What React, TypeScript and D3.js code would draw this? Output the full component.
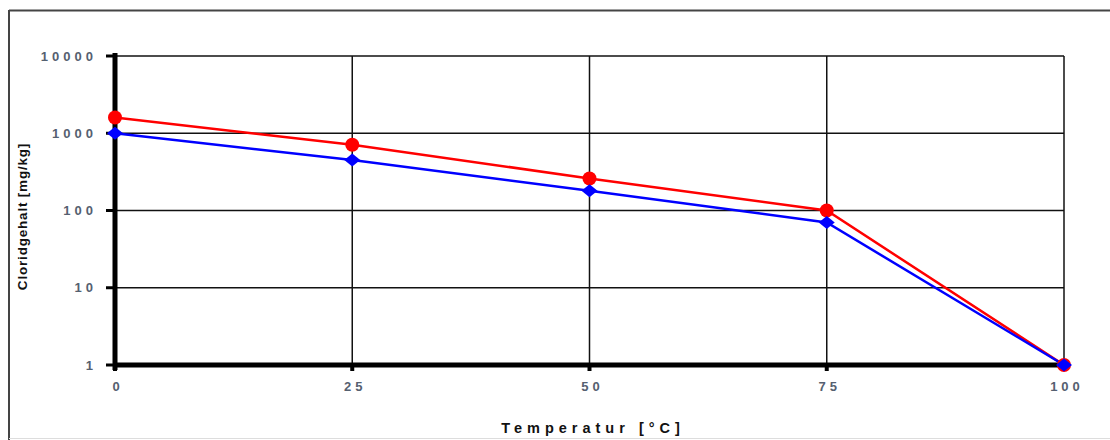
import React from "react";
import * as d3 from "d3";

const temps = [0, 25, 50, 75, 100];
const redValues = [1600, 710, 260, 100, 1];
const blueValues = [1000, 450, 180, 70, 1];
const yTicks = [1, 10, 100, 1000, 10000];
const xTicks = [0, 25, 50, 75, 100];

const W = 1110, H = 440;
const L = 115, R = 1064, T = 56, B = 365;

export default function App() {
  const x = d3.scaleLinear().domain([0, 100]).range([L, R]);
  const y = d3.scaleLog().domain([1, 10000]).range([B, T]);
  const line = d3.line<number>().x((_, i) => x(temps[i])).y((d) => y(d));
  const font = "Arial, 'Liberation Sans', sans-serif";
  const diamond = "M-8,0L0,-6.5L8,0L0,6.5Z";
  return (
    <svg width={W} height={H} style={{ position: "absolute", left: 0, top: 0, background: "#fff" }}>
      {/* outer frame */}
      <line x1={9} x2={W} y1={10.5} y2={10.5} stroke="#444" strokeWidth={2} />
      <line x1={9} x2={9} y1={10} y2={H} stroke="#444" strokeWidth={2} />
      <line x1={9} x2={W} y1={438.5} y2={438.5} stroke="#ddd" strokeWidth={1} />
      {/* grid */}
      {yTicks.map((t) => (
        <line key={"gy" + t} x1={L} x2={R} y1={y(t)} y2={y(t)} stroke="#111" strokeWidth={1.5} />
      ))}
      {xTicks.map((t) => (
        <line key={"gx" + t} x1={x(t)} x2={x(t)} y1={T} y2={B} stroke="#111" strokeWidth={1.5} />
      ))}
      {/* tick marks */}
      {yTicks.map((t) => (
        <line key={"ty" + t} x1={L - 9} x2={L} y1={y(t)} y2={y(t)} stroke="#000" strokeWidth={3} />
      ))}
      {xTicks.map((t) => (
        <line key={"tx" + t} x1={x(t)} x2={x(t)} y1={B} y2={B + 6} stroke="#000" strokeWidth={4} />
      ))}
      {/* axes */}
      <line x1={L} x2={L} y1={T - 3} y2={B + 5} stroke="#000" strokeWidth={5} />
      <line x1={L} x2={R} y1={B} y2={B} stroke="#000" strokeWidth={5} />
      {/* tick labels */}
      {yTicks.map((t) => (
        <text key={"ly" + t} x={97} y={y(t)} dy="0.36em" textAnchor="end" fontFamily={font}
          fontSize={13} fontWeight="bold" fill="#556070" letterSpacing={4}>{t}</text>
      ))}
      {xTicks.map((t) => (
        <text key={"lx" + t} x={x(t) + 3} y={B + 26} textAnchor="middle" fontFamily={font}
          fontSize={13} fontWeight="bold" fill="#556070" letterSpacing={4}>{t}</text>
      ))}
      {/* titles */}
      <text transform={`translate(27,${(T + B) / 2 + 6}) rotate(-90)`} textAnchor="middle" fontFamily={font}
        fontSize={13.5} fontWeight="bold" fill="#111" letterSpacing={0.8}>Cloridgehalt [mg/kg]</text>
      <text x={593} y={433} textAnchor="middle" fontFamily={font} fontSize={14.5} fontWeight="bold"
        fill="#111" letterSpacing={5}>Temperatur [°C]</text>
      {/* series */}
      <path d={line(redValues) || ""} fill="none" stroke="#ff0000" strokeWidth={2.5} />
      <path d={line(blueValues) || ""} fill="none" stroke="#0000ff" strokeWidth={2.5} />
      {redValues.map((v, i) => (
        <circle key={"r" + i} cx={x(temps[i])} cy={y(v)} r={7} fill="#ff0000" />
      ))}
      {blueValues.map((v, i) => (
        <path key={"b" + i} d={diamond} transform={`translate(${x(temps[i])},${y(v)})`} fill="#0000ff" />
      ))}
    </svg>
  );
}
